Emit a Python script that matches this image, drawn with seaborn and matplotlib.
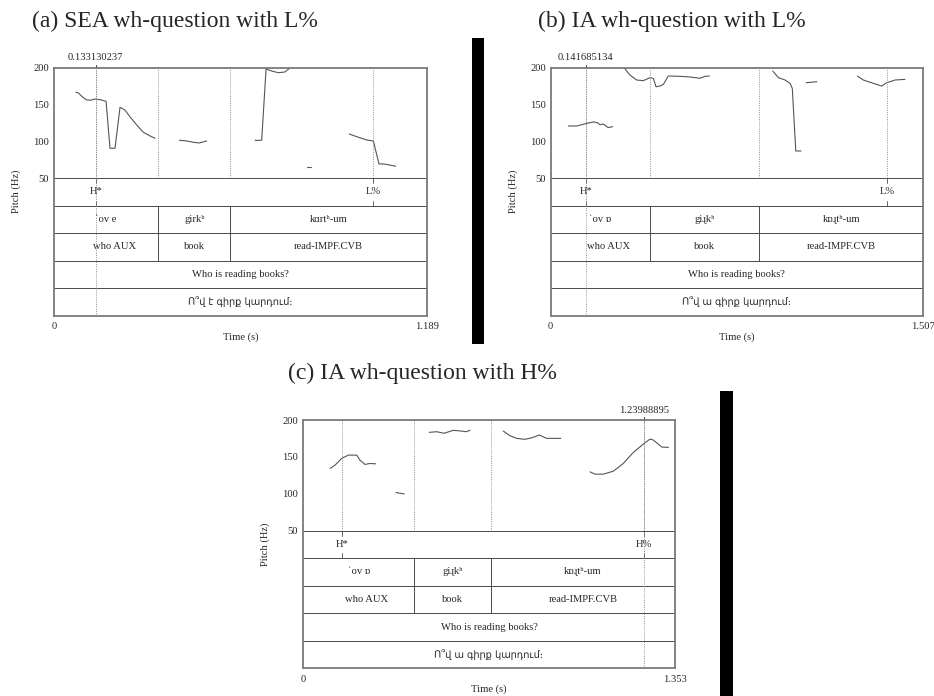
import numpy as np
import pandas as pd
import matplotlib
matplotlib.use("Agg")
import matplotlib.pyplot as plt
import matplotlib.transforms as mtransforms
import seaborn as sns
from matplotlib.patches import Rectangle

# ---------------- data ----------------
# Panel (a): SEA wh-question with L%
a_time = [0.070, 0.077, 0.0915, 0.104, 0.117, 0.131, 0.147, 0.166, 0.1785, 0.1945, 0.2104, 0.226, 0.242,
          0.2636, 0.2847, 0.306, 0.322,
          0.3994, 0.423, 0.444, 0.463, 0.4868,
          0.6407, 0.662, 0.676, 0.694, 0.715, 0.736, 0.752,
          0.8055, 0.819,
          0.9414, 0.965, 0.997, 1.018, 1.036, 1.052, 1.089]
a_hz = [166.6, 166.0, 159.9, 156.2, 156.0, 157.5, 156.6, 154.4, 90.7, 90.7, 146.3, 142.6, 133.5,
        122.3, 112.4, 107.4, 104.3,
        101.5, 100.6, 98.8, 97.9, 100.6,
        101.5, 101.5, 198.2, 195.5, 193.2, 194.2, 199.5,
        64.9, 64.9,
        110.0, 106.4, 101.9, 100.6, 69.4, 69.4, 66.3]
a_seg = [1, 1, 1, 1, 1, 1, 1, 1, 1, 1, 1, 1, 1, 1, 1, 1, 1,
         2, 2, 2, 2, 2,
         3, 3, 3, 3, 3, 3, 3,
         4, 4,
         5, 5, 5, 5, 5, 5, 5]

# Panel (b): IA wh-question with L%
b_time = [0.0713, 0.105, 0.132, 0.152, 0.1725, 0.1887, 0.1996, 0.213, 0.233, 0.251,
          0.3008, 0.321, 0.348, 0.375, 0.402, 0.4154, 0.4263, 0.4425, 0.456, 0.476, 0.5235, 0.564,
          0.6045, 0.6247, 0.642,
          0.899, 0.9215, 0.9486, 0.969, 0.978, 0.992, 1.0134,
          1.0336, 1.077,
          1.2413, 1.2656, 1.306, 1.340, 1.360, 1.394, 1.434]
b_hz = [120.9, 120.9, 123.2, 124.9, 126.4, 125.5, 122.7, 123.6, 118.7, 120.0,
        198.2, 190.0, 183.3, 182.4, 186.5, 185.6, 174.2, 175.1, 177.4, 188.7, 188.3, 187.4,
        185.6, 188.3, 188.7,
        195.5, 186.5, 183.3, 178.8, 172.0, 87.0, 87.0,
        179.6, 181.0,
        188.7, 183.3, 178.8, 175.1, 179.6, 183.3, 184.2]
b_seg = [1, 1, 1, 1, 1, 1, 1, 1, 1, 1,
         2, 2, 2, 2, 2, 2, 2, 2, 2, 2, 2, 2, 2, 2, 2,
         3, 3, 3, 3, 3, 3, 3,
         4, 4,
         5, 5, 5, 5, 5, 5, 5]

# Panel (c): IA wh-question with H%
c_time = [0.0982, 0.1164, 0.1408, 0.1648, 0.1953, 0.2073, 0.2255, 0.2437, 0.2645,
          0.3383, 0.3685,
          0.4594, 0.4864, 0.5129, 0.5467, 0.577, 0.593, 0.6075,
          0.7286, 0.753, 0.7774, 0.8076, 0.832, 0.8596, 0.8865, 0.9374,
          1.044, 1.062, 1.0924, 1.1288, 1.165, 1.2015, 1.238, 1.2623, 1.2744, 1.3048, 1.3289]
c_hz = [134.3, 138.8, 147.9, 152.4, 152.4, 145.6, 139.8, 141.1, 140.6,
        101.7, 99.8,
        183.3, 184.1, 182.0, 186.0, 185.0, 184.1, 186.0,
        185.0, 178.6, 175.1, 173.8, 175.9, 179.6, 175.1, 175.1,
        129.7, 126.6, 126.6, 130.7, 141.1, 156.1, 167.4, 174.2, 172.8, 163.3, 162.9]
c_seg = [1, 1, 1, 1, 1, 1, 1, 1, 1,
         2, 2,
         3, 3, 3, 3, 3, 3, 3,
         4, 4, 4, 4, 4, 4, 4, 4,
         5, 5, 5, 5, 5, 5, 5, 5, 5, 5, 5]

titles = ["(a) SEA wh-question with L%", "(b) IA wh-question with L%", "(c) IA wh-question with H%"]
durations = [1.189, 1.507, 1.353]
duration_labels = ["1.189", "1.507", "1.353"]
word_bounds_a = [0.3326, 0.562]
word_bounds_b = [0.403, 0.8445]
word_bounds_c = [0.405, 0.684]
ipa_a = ["ˈov e", "girkʰ", "kɑrtʰ-um"]
ipa_b = ["ˈov ɒ", "giɻkʰ", "kɒɻtʰ-um"]
ipa_c = ["ˈov ɒ", "giɻkʰ", "kɒɻtʰ-um"]
gloss = ["who AUX", "book", "read-IMPF.CVB"]
translation = "Who is reading books?"
armenian_a = "Ո՞վ է գիրք կարդում։"
armenian_bc = "Ո՞վ ա գիրք կարդում։"
tones_a = [(0.1331, "H*"), (1.018, "L%")]
tones_b = [(0.1417, "H*"), (1.3628, "L%")]
tones_c = [(0.1408, "H*"), (1.2399, "H%")]
cursor_a, cursor_a_label = 0.133130237, "0.133130237"
cursor_b, cursor_b_label = 0.141685134, "0.141685134"
cursor_c, cursor_c_label = 1.23988895, "1.23988895"
ytick_vals = [50, 100, 150, 200]

# ---------------- style ----------------
sns.set_style("white")
plt.rcParams["font.family"] = ["Liberation Serif", "DejaVu Serif", "DejaVu Sans"]

W, H = 934, 696
fig = plt.figure(figsize=(W / 100, H / 100), dpi=100)

TIER = 37.3          # height of one annotation tier, in Hz-units of the shared axis
YMIN = 50 - 5 * TIER
FS = 7.6
FRAME = "#7a7a7a"
LINEC = "#4a4a4a"
DOTC = "#8c8c8c"
DOT = (0, (1.0, 1.4))


def panel(rect_px, title, title_xy, dur, dur_label, time, hz, seg, bounds, ipa, arm,
          tones, cursor, cursor_label):
    l, t, r, b = rect_px
    ax = fig.add_axes([l / W, 1 - b / H, (r - l) / W, (b - t) / H])
    df = pd.DataFrame({"t": time, "f": hz, "s": seg})
    sns.lineplot(data=df, x="t", y="f", units="s", estimator=None, sort=False,
                 color="#555555", lw=0.8, ax=ax, legend=False)
    ax.set_xlim(0, dur)
    ax.set_ylim(YMIN, 200)
    ax.set_yticks(ytick_vals)
    ax.set_yticklabels([str(v) for v in ytick_vals])
    ax.set_xticks([0, dur])
    ax.set_xticklabels(["0", dur_label])
    ax.set_xlabel("")
    ax.set_ylabel("")
    for sp in ax.spines.values():
        sp.set_color(FRAME)
        sp.set_linewidth(1.3)
        sp.set_visible(True)
    ax.tick_params(axis="both", direction="out", length=2.5, width=0.8, color=FRAME,
                   labelsize=FS, pad=1)
    ax.tick_params(axis="x", pad=2)

    # tier separators
    for k in range(0, 5):
        ax.axhline(50 - k * TIER, color=LINEC, lw=0.7)
    # word boundaries
    for bt in bounds:
        ax.plot([bt, bt], [50, 200], color=DOTC, lw=0.7, ls=DOT)
        ax.plot([bt, bt], [50 - 3 * TIER, 50 - TIER], color=LINEC, lw=0.7)
    # tones
    for tt, lab in tones:
        ax.plot([tt, tt], [50, 200], color=DOTC, lw=0.7, ls=DOT)
        ax.plot([tt, tt], [50, 50 - 0.18 * TIER], color=LINEC, lw=0.6)
        ax.plot([tt, tt], [50 - 0.82 * TIER, 50 - TIER], color=LINEC, lw=0.6)
        ax.text(tt, 50 - 0.5 * TIER, lab, ha="center", va="center", fontsize=FS)
    # cursor
    ax.plot([cursor, cursor], [YMIN, 200], color=DOTC, lw=0.7, ls=DOT)
    ax.plot([cursor, cursor], [200, 203.5], color=LINEC, lw=0.8, clip_on=False)
    ax.text(cursor, 213.5, cursor_label, ha="center", va="center", fontsize=FS)

    edges = [0] + list(bounds) + [dur]
    mids = [(edges[i] + edges[i + 1]) / 2 for i in range(3)]
    for m, w in zip(mids, ipa):
        ax.text(m, 50 - 1.5 * TIER, w, ha="center", va="center", fontsize=FS)
    shift = mtransforms.offset_copy(ax.transData, fig=fig, x=6, y=0, units="points")
    for i, (m, w) in enumerate(zip(mids, gloss)):
        ax.text(m, 50 - 2.5 * TIER, w, ha="center", va="center", fontsize=FS,
                transform=shift if i == 0 else ax.transData)
    ax.text(dur / 2, 50 - 3.5 * TIER, translation, ha="center", va="center", fontsize=FS)
    ax.text(dur / 2, 50 - 4.5 * TIER, arm, ha="center", va="center", fontsize=7.0,
            family=["DejaVu Sans"])

    ax.text(-37.5 / (r - l), 0.5, "Pitch (Hz)", transform=ax.transAxes, rotation=90,
            ha="center", va="center", fontsize=FS)
    ax.text(0.5, -21.3 / (b - t), "Time (s)", transform=ax.transAxes,
            ha="center", va="center", fontsize=FS)

    fig.text(title_xy[0] / W, 1 - title_xy[1] / H, title, ha="left", va="center",
             fontsize=17, family=["Liberation Serif", "DejaVu Serif"])
    return ax


panel((54, 67.7, 427, 315.7), titles[0], (32, 21), durations[0], duration_labels[0],
      a_time, a_hz, a_seg, word_bounds_a, ipa_a, armenian_a, tones_a, cursor_a, cursor_a_label)
panel((550.7, 67.7, 923, 315.7), titles[1], (538, 21), durations[1], duration_labels[1],
      b_time, b_hz, b_seg, word_bounds_b, ipa_b, armenian_bc, tones_b, cursor_b, cursor_b_label)
panel((303, 420, 675, 668.3), titles[2], (288, 373), durations[2], duration_labels[2],
      c_time, c_hz, c_seg, word_bounds_c, ipa_c, armenian_bc, tones_c, cursor_c, cursor_c_label)

# black bars
for x0, x1, y0, y1 in [(471.7, 484.3, 38.3, 343.5), (720, 732.7, 390.7, 696)]:
    fig.add_artist(Rectangle((x0 / W, 1 - y1 / H), (x1 - x0) / W, (y1 - y0) / H,
                             transform=fig.transFigure, color="black", lw=0))

fig.savefig("out.png", dpi=100, facecolor="white")
